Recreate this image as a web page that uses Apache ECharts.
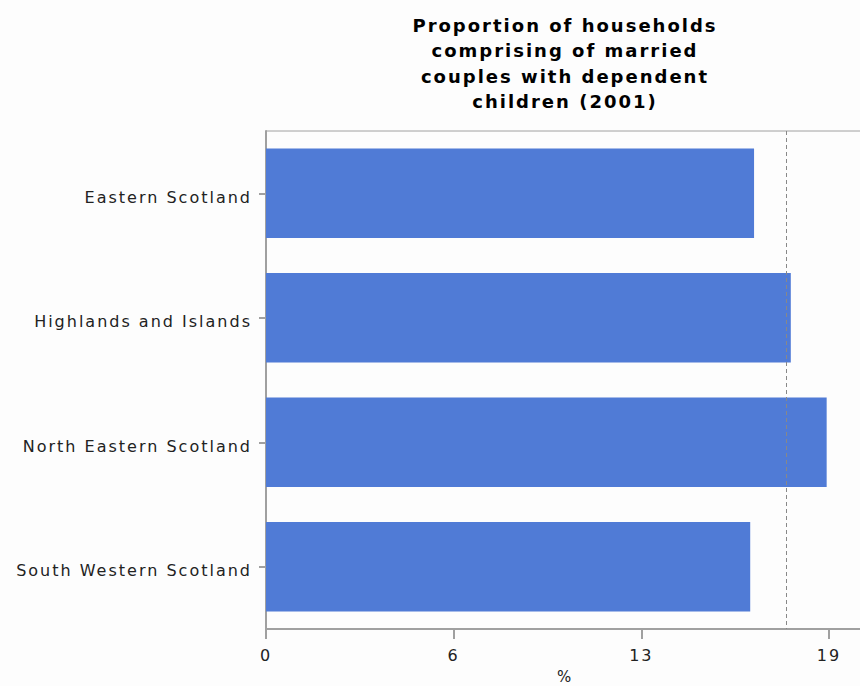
<!DOCTYPE html>
<html>
<head>
<meta charset="utf-8">
<script src="https://cdn.jsdelivr.net/npm/echarts@6/dist/echarts.min.js"></script>
<style>
html,body{margin:0;padding:0;background:#fdfdfd;}
#chart{width:860px;height:686px;letter-spacing:2px;}
</style>
</head>
<body>
<div id="chart"></div>
<script>
const categories = ["Eastern Scotland", "Highlands and Islands", "North Eastern Scotland", "South Western Scotland"];
const values = [16.47, 17.71, 18.92, 16.34];
const referenceValue = 17.54;
const titleLines = ["Proportion of households", "comprising of married", "couples with dependent", "children (2001)"];
const axisName = "%";

const chart = echarts.init(document.getElementById('chart'), null, { renderer: 'svg' });
chart.setOption({
  backgroundColor: '#fdfdfd',
  animation: false,
  graphic: [{
    type: 'text',
    x: 565, y: 13,
    style: {
      text: titleLines.join('\n'),
      align: 'center',
      verticalAlign: 'top',
      font: 'bold 18px "DejaVu Sans"',
      lineHeight: 25.3,
      fill: '#000'
    }
  }],
  grid: { left: 266, right: -4, top: 131, bottom: 57, outerBoundsMode: 'none', show: true, borderColor: '#a0a0a0', borderWidth: 1, backgroundColor: 'transparent' },
  xAxis: {
    type: 'value',
    min: 0,
    max: 20.18,
    interval: 19 / 3,
    name: axisName,
    nameLocation: 'middle',
    nameGap: 40,
    nameTextStyle: { fontFamily: 'DejaVu Sans', fontSize: 15, color: '#222' },
    axisLine: { show: true, lineStyle: { color: '#a0a0a0', width: 2 } },
    axisTick: { show: true, length: 10, lineStyle: { color: '#a0a0a0', width: 2 } },
    axisLabel: {
      formatter: v => String(Math.round(v)),
      showMaxLabel: false,
      margin: 18,
      fontFamily: 'DejaVu Sans', fontSize: 16, color: '#222'
    },
    splitLine: { show: false }
  },
  yAxis: {
    type: 'category',
    data: categories,
    inverse: true,
    axisLine: { show: true, lineStyle: { color: '#a0a0a0', width: 2 } },
    axisTick: { show: true, alignWithLabel: true, length: 7, lineStyle: { color: '#a0a0a0', width: 2 } },
    axisLabel: {
      margin: 14,
      formatter: v => '{a|' + v + '}',
      rich: { a: { padding: [8, 0, 0, 0], fontFamily: 'DejaVu Sans', fontSize: 16, color: '#222' } },
      fontFamily: 'DejaVu Sans', fontSize: 16, color: '#222'
    }
  },
  series: [{
    type: 'bar',
    data: values,
    barCategoryGap: '28%',
    itemStyle: { color: '#507BD6' },
    markLine: {
      silent: true,
      symbol: 'none',
      label: { show: false },
      lineStyle: { color: '#888', type: [4, 3], width: 1 },
      data: [{ xAxis: referenceValue }]
    }
  }]
});
</script>
</body>
</html>
